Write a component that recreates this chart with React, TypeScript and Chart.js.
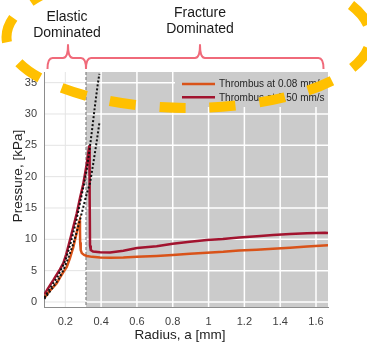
import React, { useEffect, useRef } from 'react';
import { Chart, registerables } from 'chart.js';

Chart.register(...registerables);

// ---- data ----
const slowX = [0.083, 0.1, 0.12, 0.14, 0.152, 0.17, 0.19, 0.208, 0.226, 0.245, 0.262, 0.275, 0.28, 0.282, 0.283, 0.286, 0.292, 0.305, 0.32, 0.35, 0.394, 0.45, 0.524, 0.6, 0.71, 0.8, 0.896, 0.99, 1.082, 1.17, 1.269, 1.36, 1.455, 1.55, 1.667];
const slowY = [0.7, 1.3, 2.0, 2.6, 3.0, 3.9, 4.8, 5.6, 7.0, 8.8, 10.9, 12.6, 13.0, 11.5, 9.5, 8.3, 7.8, 7.5, 7.35, 7.2, 7.1, 7.05, 7.1, 7.2, 7.35, 7.5, 7.7, 7.85, 8.0, 8.2, 8.35, 8.5, 8.65, 8.85, 9.05];

const fastX = [0.083, 0.1, 0.115, 0.133, 0.15, 0.17, 0.189, 0.205, 0.226, 0.245, 0.264, 0.282, 0.3, 0.319, 0.334, 0.336, 0.338, 0.342, 0.355, 0.394, 0.45, 0.524, 0.6, 0.71, 0.8, 0.896, 0.99, 1.08, 1.17, 1.27, 1.36, 1.455, 1.55, 1.65, 1.667];
const fastY = [1.2, 2.0, 2.7, 3.5, 4.3, 5.2, 6.2, 7.6, 9.9, 12.0, 14.15, 16.6, 18.8, 21.9, 25.0, 17.0, 9.0, 8.3, 8.05, 7.95, 7.9, 8.18, 8.6, 8.9, 9.3, 9.6, 9.9, 10.05, 10.3, 10.5, 10.7, 10.85, 10.95, 11.05, 11.0];

const modelAX = [0.083, 0.12, 0.16, 0.2, 0.23, 0.26, 0.285, 0.305, 0.32, 0.335, 0.35, 0.366, 0.38, 0.39];
const modelAY = [0.7, 2.4, 4.2, 6.6, 9.4, 12.8, 16.2, 18.9, 21.2, 24.2, 27.6, 31.4, 34.5, 36.4];

const modelBX = [0.083, 0.12, 0.16, 0.19, 0.22, 0.245, 0.27, 0.292, 0.315, 0.338, 0.355, 0.372, 0.39];
const modelBY = [0.5, 1.9, 3.5, 5.1, 7.3, 9.3, 11.8, 14.2, 16.8, 19.0, 21.9, 25.0, 28.5];

const xTickValues = [0.2, 0.4, 0.6, 0.8, 1, 1.2, 1.4, 1.6];
const xTickLabels = ['0.2', '0.4', '0.6', '0.8', '1', '1.2', '1.4', '1.6'];
const yTickValues = [0, 5, 10, 15, 20, 25, 30, 35];
const yTickLabels = ['0', '5', '10', '15', '20', '25', '30', '35'];

const seriesLabels = ['Thrombus at 0.08 mm/s', 'Thrombus at 0.50 mm/s'];
const regionBoundary = 0.3156;
const elasticText = ['Elastic', 'Dominated'];
const fractureText = ['Fracture', 'Dominated'];
const xTitle = 'Radius, a [mm]';
const yTitle = 'Pressure, [kPa]';

// ---- styles ----
const FONT = '"Liberation Sans", Arial, Helvetica, sans-serif';
const ORANGE = '#D95319';
const CRIMSON = '#A2142F';
const GRAY_BG = '#cbcbcb';
const PINK = '#F06A7A';
const YELLOW = '#FFC000';

const zip = (xs: number[], ys: number[]) => xs.map((x, i) => ({ x, y: ys[i] }));

function arcLen(t0: number, t1: number, rx: number, ry: number) {
  let s = 0;
  const n = 3000;
  const dt = (t1 - t0) / n;
  for (let i = 0; i < n; i++) {
    const t = t0 + (i + 0.5) * dt;
    s += Math.hypot(rx * Math.sin(t), ry * Math.cos(t)) * dt;
  }
  return s;
}

function drawBrace(ctx: CanvasRenderingContext2D, x0: number, x1: number, xt: number, yb: number, ym: number, yt: number) {
  const r = 5;
  ctx.beginPath();
  ctx.moveTo(x0, yb);
  ctx.quadraticCurveTo(x0, ym, x0 + r, ym);
  ctx.lineTo(xt - r, ym);
  ctx.quadraticCurveTo(xt, ym, xt, yt);
  ctx.quadraticCurveTo(xt, ym, xt + r, ym);
  ctx.lineTo(x1 - r, ym);
  ctx.quadraticCurveTo(x1, ym, x1, yb);
  ctx.stroke();
}

const overlayPlugin = {
  id: 'overlay',
  beforeDraw(chart: any) {
    const { ctx, chartArea } = chart;
    const { top, bottom, right } = chartArea;
    const bx = chart.scales.x.getPixelForValue(regionBoundary);
    ctx.save();
    ctx.fillStyle = GRAY_BG;
    ctx.fillRect(bx, top, right - bx, bottom - top);
    ctx.restore();
  },
  beforeDatasetsDraw(chart: any) {
    const { ctx, chartArea } = chart;
    const { top, bottom, left, right } = chartArea;
    const xs = chart.scales.x;
    const ys = chart.scales.y;
    const bx = xs.getPixelForValue(regionBoundary);
    ctx.save();
    xTickValues.forEach((v) => {
      const px = xs.getPixelForValue(v);
      ctx.beginPath();
      ctx.strokeStyle = px > bx ? '#ffffff' : '#e4e4e4';
      ctx.lineWidth = px > bx ? 1.5 : 1;
      ctx.moveTo(px, top);
      ctx.lineTo(px, bottom);
      ctx.stroke();
    });
    yTickValues.forEach((v) => {
      const py = ys.getPixelForValue(v);
      ctx.beginPath();
      ctx.strokeStyle = '#e4e4e4';
      ctx.lineWidth = 1;
      ctx.moveTo(left + 1, py);
      ctx.lineTo(bx, py);
      ctx.stroke();
      ctx.beginPath();
      ctx.strokeStyle = '#ffffff';
      ctx.lineWidth = 1.5;
      ctx.moveTo(bx, py);
      ctx.lineTo(right, py);
      ctx.stroke();
    });
    ctx.beginPath();
    ctx.setLineDash([3, 2]);
    ctx.strokeStyle = '#8a8a8a';
    ctx.lineWidth = 1.3;
    ctx.moveTo(bx, top);
    ctx.lineTo(bx, bottom);
    ctx.stroke();
    ctx.restore();
  },
  afterDatasetsDraw(chart: any) {
    const { ctx, chartArea } = chart;
    const right = chartArea.right;
    ctx.save();
    ctx.fillStyle = GRAY_BG;
    ctx.fillRect(175, chartArea.top, right - 175, 35);
    const colors = [ORANGE, CRIMSON];
    const rows = [84, 97.3];
    seriesLabels.forEach((lab, i) => {
      ctx.beginPath();
      ctx.strokeStyle = colors[i];
      ctx.lineWidth = 2.5;
      ctx.moveTo(182, rows[i]);
      ctx.lineTo(215, rows[i]);
      ctx.stroke();
      ctx.fillStyle = '#262626';
      ctx.font = `10px ${FONT}`;
      ctx.textAlign = 'left';
      ctx.textBaseline = 'middle';
      ctx.fillText(lab, 219, rows[i] + 0.5);
    });
    ctx.restore();
  },
  afterDraw(chart: any) {
    const { ctx } = chart;
    ctx.save();
    // axis titles
    ctx.fillStyle = '#222';
    ctx.font = `13.5px ${FONT}`;
    ctx.textAlign = 'center';
    ctx.textBaseline = 'alphabetic';
    ctx.fillText(xTitle, 180, 338.5);
    ctx.save();
    ctx.translate(22, 176);
    ctx.rotate(-Math.PI / 2);
    ctx.fillText(yTitle, 0, 0);
    ctx.restore();

    // annotation texts
    ctx.font = `14px ${FONT}`;
    ctx.fillStyle = '#1a1a1a';
    ctx.fillText(elasticText[0], 67, 21);
    ctx.fillText(elasticText[1], 67, 37);
    ctx.fillText(fractureText[0], 200, 16.5);
    ctx.fillText(fractureText[1], 200, 32.5);

    // braces
    ctx.strokeStyle = PINK;
    ctx.lineWidth = 2;
    ctx.lineJoin = 'round';
    drawBrace(ctx, 47.5, 86, 68, 69, 58, 45);
    drawBrace(ctx, 86, 323.5, 200, 69, 58, 45);

    // yellow dashed ellipse
    const cx = 188.5, cy = 37, rx = 182, ry = 71;
    const dash = [26, 24];
    const period = dash[0] + dash[1];
    const tb = Math.acos((332 - cx) / rx);
    const L = arcLen(-Math.PI / 2, tb, rx, ry);
    ctx.beginPath();
    ctx.strokeStyle = YELLOW;
    ctx.lineWidth = 10;
    ctx.lineCap = 'butt';
    ctx.setLineDash(dash);
    ctx.lineDashOffset = (period - (L % period)) % period;
    ctx.ellipse(cx, cy, rx, ry, 0, -Math.PI / 2, (3 * Math.PI) / 2);
    ctx.stroke();
    ctx.restore();
  },
};

export default function App() {
  const ref = useRef<HTMLCanvasElement | null>(null);
  useEffect(() => {
    if (!ref.current) return;
    const line = (data: any, color: string, width: number, dashPattern?: number[]) => ({
      data,
      showLine: true,
      borderColor: color,
      backgroundColor: color,
      borderWidth: width,
      borderDash: dashPattern || [],
      pointRadius: 0,
      tension: 0,
      fill: false,
    });
    const chart = new Chart(ref.current, {
      type: 'scatter',
      data: {
        datasets: [
          { label: 'model A', ...line(zip(modelAX, modelAY), '#111111', 2, [2, 2]) },
          { label: 'model B', ...line(zip(modelBX, modelBY), '#111111', 2, [2, 2]) },
          { label: seriesLabels[0], ...line(zip(slowX, slowY), ORANGE, 2.5) },
          { label: seriesLabels[1], ...line(zip(fastX, fastY), CRIMSON, 2.5) },
        ],
      },
      options: {
        responsive: false,
        animation: false,
        layout: { padding: { top: 72, right: 39, left: 0, bottom: 0 } },
        plugins: { legend: { display: false }, tooltip: { enabled: false } },
        scales: {
          x: {
            type: 'linear',
            min: 0.081,
            max: 1.667,
            afterFit: (s: any) => { s.height = 42; },
            afterBuildTicks: (s: any) => { s.ticks = xTickValues.map((value) => ({ value })); },
            ticks: {
              callback: (v: any) => xTickLabels[xTickValues.indexOf(Number(v))] ?? '',
              padding: 8,
              font: { family: FONT, size: 11 },
              color: '#404040',
              maxRotation: 0,
              autoSkip: false,
            },
            grid: { display: false, drawTicks: false },
            border: { display: true, color: '#8c8c8c', width: 1 },
          },
          y: {
            type: 'linear',
            min: -0.8,
            max: 36.7,
            afterFit: (s: any) => { s.width = 44; },
            afterBuildTicks: (s: any) => { s.ticks = yTickValues.map((value) => ({ value })); },
            ticks: {
              callback: (v: any) => yTickLabels[yTickValues.indexOf(Number(v))] ?? '',
              padding: 7,
              font: { family: FONT, size: 11 },
              color: '#404040',
              autoSkip: false,
            },
            grid: { display: false, drawTicks: false },
            border: { display: true, color: '#8c8c8c', width: 1 },
          },
        },
      },
      plugins: [overlayPlugin],
    } as any);
    return () => chart.destroy();
  }, []);
  return (
    <div style={{ position: 'fixed', left: 0, top: 0, width: 367, height: 349, background: '#fff' }}>
      <canvas ref={ref} width={367} height={349} style={{ display: 'block' }} />
    </div>
  );
}
